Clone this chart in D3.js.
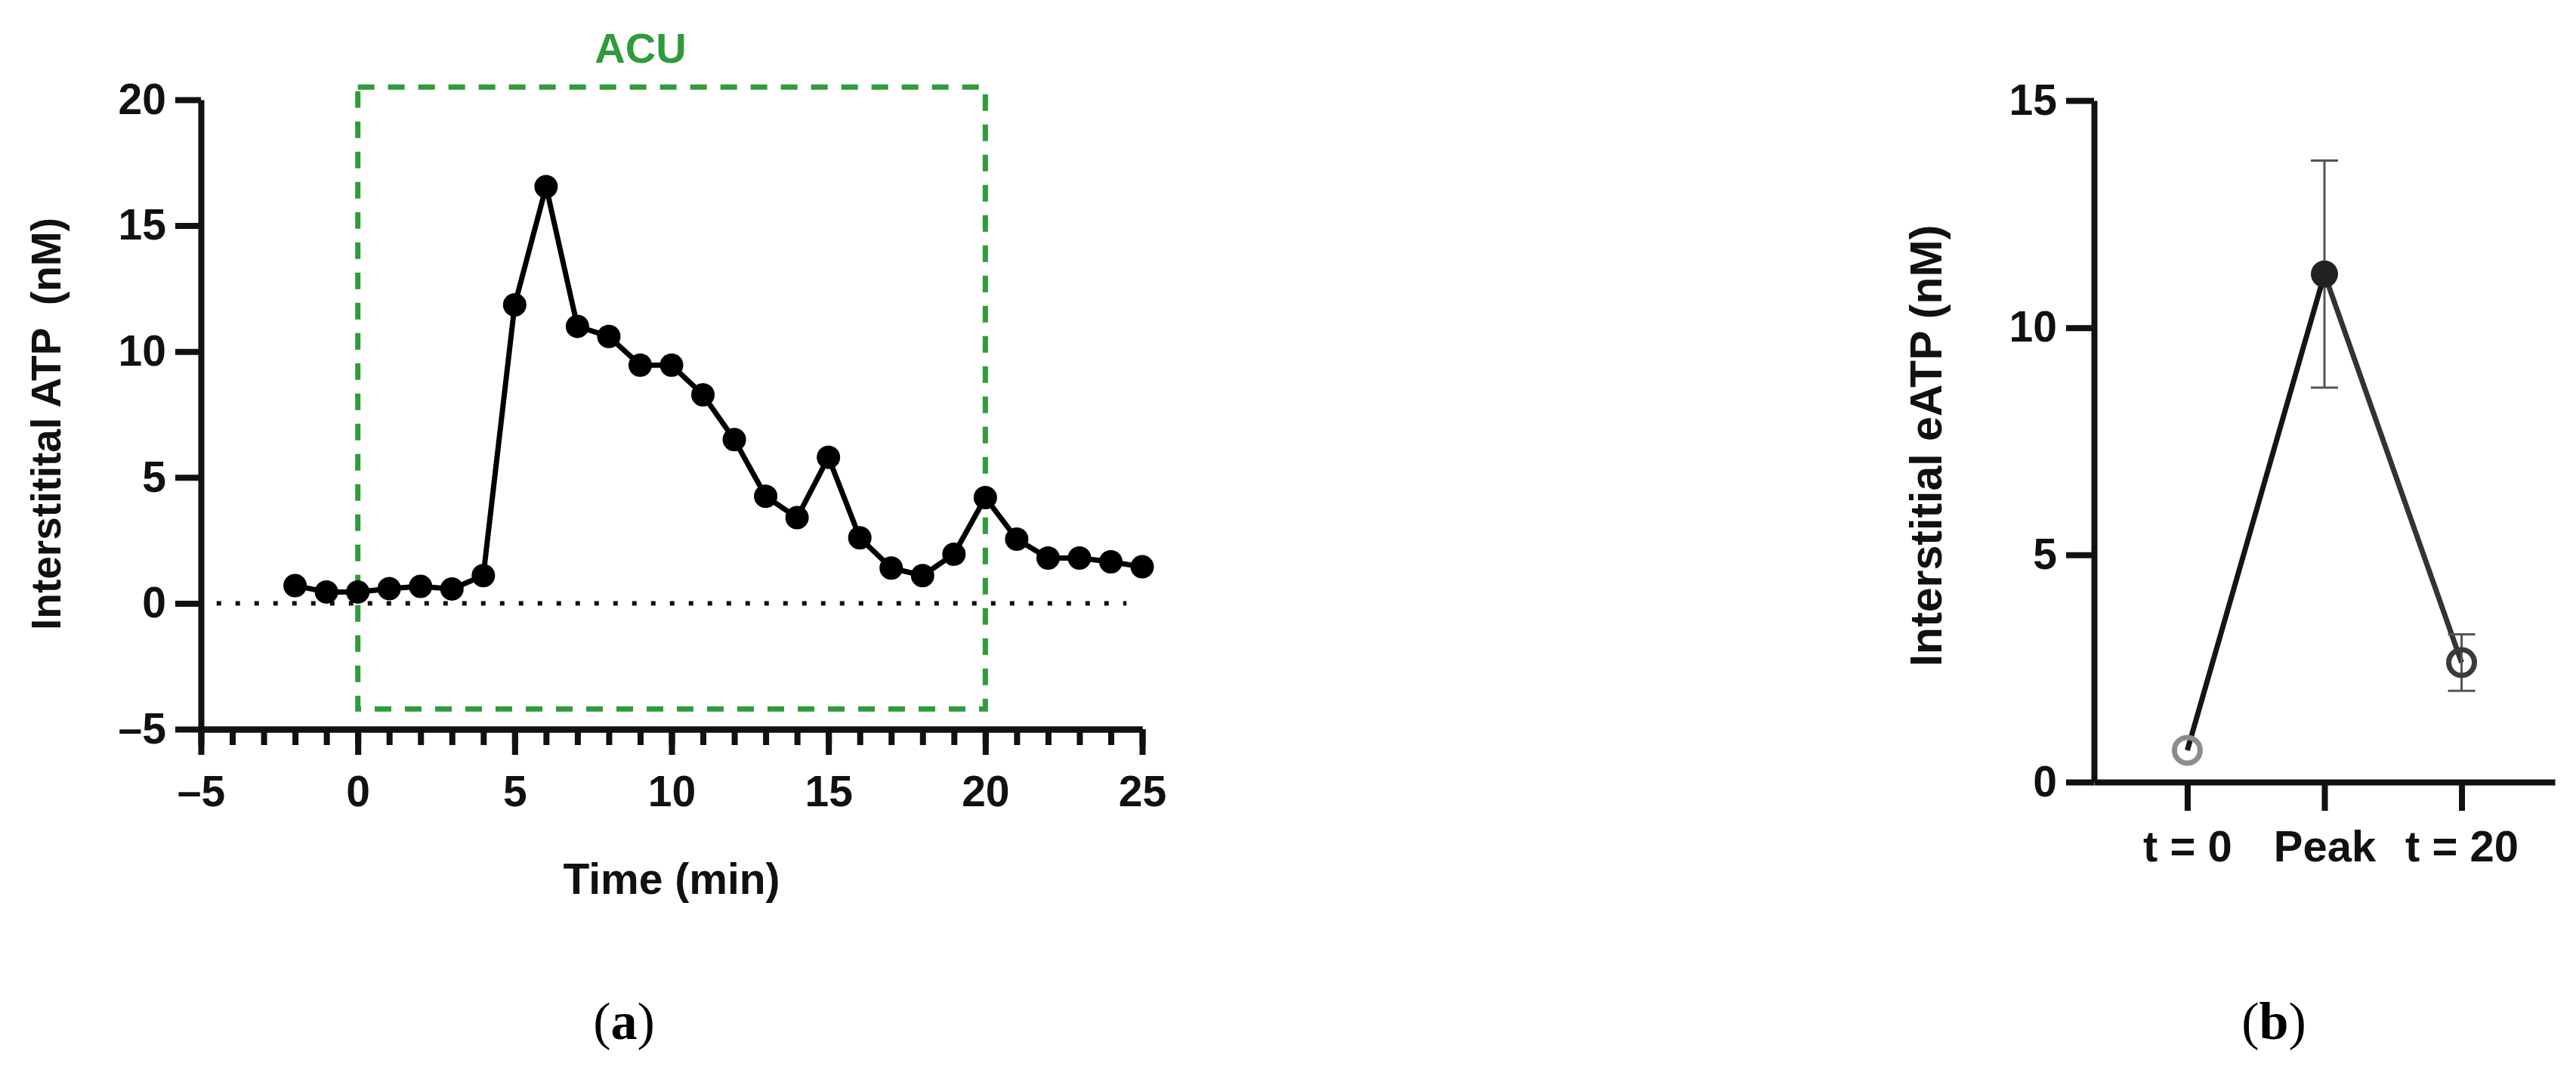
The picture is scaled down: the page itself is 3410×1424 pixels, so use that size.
<!DOCTYPE html>
<html>
<head>
<meta charset="utf-8">
<script src="https://cdn.jsdelivr.net/npm/d3@7"></script>
<style>
  body { margin: 0; background: #fff; }
  .axis path, .axis line { stroke: #111; stroke-width: 8; }
  .axis text { font-family: "Liberation Sans", Arial, sans-serif; font-weight: bold; fill: #111; }
</style>
</head>
<body>
<script>
// panel (a): time course
var timeMin = [-2, -1, 0, 1, 2, 3, 4, 5, 6, 7, 8, 9, 10, 11, 12, 13, 14, 15, 16, 17, 18, 19, 20, 21, 22, 23, 24, 25]
var atpNM = [0.70, 0.45, 0.45, 0.58, 0.67, 0.57, 1.10, 11.85, 16.55, 11.0, 10.6, 9.46, 9.46, 8.28, 6.50, 4.25, 3.40, 5.80, 2.60, 1.40, 1.10, 1.95, 4.20, 2.55, 1.80, 1.80, 1.65, 1.45]
var xTicksA = [-5, 0, 5, 10, 15, 20, 25]
var yTicksA = [-5, 0, 5, 10, 15, 20]
var acuWindow = [0, 20]        // minutes
var acuBoxY = [-4.2, 20.5]     // box extent in nM
var zeroLine = [-4.5, 24.5]

// panel (b): summary
var phases = ["t = 0", "Peak", "t = 20"]
var meanNM = [0.70, 11.18, 2.63]
var semNM = [0, 2.5, 0.62]
var yTicksB = [0, 5, 10, 15]

var w = 3410
var h = 1424

var svg = d3.select("body")
    .append("svg")
    .attr("width", w)
    .attr("height", h)

var font = "'Liberation Sans', Arial, sans-serif"

// ---------- panel (a) ----------
var xA = d3.scaleLinear().domain([-5, 25]).range([266, 1512])
var yA = d3.scaleLinear().domain([-5, 20]).range([965, 132])

// minor ticks every minute
svg.append("g")
    .attr("class", "axis")
    .attr("transform", "translate(0," + yA(-5) + ")")
    .call(d3.axisBottom(xA).tickValues(d3.range(-5, 26, 1)).tickSize(21).tickSizeOuter(0).tickFormat(""))

svg.append("g")
    .attr("class", "axis")
    .attr("transform", "translate(0," + yA(-5) + ")")
    .call(d3.axisBottom(xA).tickValues(xTicksA).tickSize(34).tickSizeOuter(0).tickPadding(28)
        .tickFormat(function(d) { return d < 0 ? "\u2013" + (-d) : d }))
    .selectAll("text").attr("font-size", 57)

svg.append("g")
    .attr("class", "axis")
    .attr("transform", "translate(" + xA(-5) + ",0)")
    .call(d3.axisLeft(yA).tickValues(yTicksA).tickSize(34).tickSizeOuter(0).tickPadding(12)
        .tickFormat(function(d) { return d < 0 ? "\u2013" + (-d) : d }))
    .selectAll("text").attr("font-size", 57)

// dotted zero line
svg.append("line")
    .attr("x1", xA(zeroLine[0]))
    .attr("x2", xA(zeroLine[1]))
    .attr("y1", yA(0))
    .attr("y2", yA(0))
    .attr("stroke", "#111")
    .attr("stroke-width", 6)
    .attr("stroke-dasharray", "6,19")

// ACU box
svg.append("rect")
    .attr("x", xA(acuWindow[0]))
    .attr("y", yA(acuBoxY[1]))
    .attr("width", xA(acuWindow[1]) - xA(acuWindow[0]))
    .attr("height", yA(acuBoxY[0]) - yA(acuBoxY[1]))
    .attr("fill", "none")
    .attr("stroke", "#2f9b3b")
    .attr("stroke-width", 7)
    .attr("stroke-dasharray", "22,18")

svg.append("text")
    .attr("x", 848)
    .attr("y", 83)
    .attr("text-anchor", "middle")
    .attr("font-family", font)
    .attr("font-weight", "bold")
    .attr("font-size", 56)
    .attr("fill", "#2f9b3b")
    .text("ACU")

var ptsA = timeMin.map(function(t, i) { return { x: t, y: atpNM[i] } })

svg.append("path")
    .datum(ptsA)
    .attr("fill", "none")
    .attr("stroke", "#000")
    .attr("stroke-width", 7)
    .attr("stroke-linejoin", "round")
    .attr("d", d3.line().x(function(d) { return xA(d.x) }).y(function(d) { return yA(d.y) }))

svg.append("g").selectAll("circle")
    .data(ptsA)
    .enter()
    .append("circle")
    .attr("cx", function(d) { return xA(d.x) })
    .attr("cy", function(d) { return yA(d.y) })
    .attr("r", 15.5)
    .attr("fill", "#000")

// axis titles
svg.append("text")
    .attr("x", xA(10))
    .attr("y", 1183)
    .attr("text-anchor", "middle")
    .attr("font-family", font)
    .attr("font-weight", "bold")
    .attr("font-size", 57)
    .attr("fill", "#111")
    .text("Time (min)")

svg.append("text")
    .attr("transform", "translate(80, 561) rotate(-90)")
    .attr("text-anchor", "middle")
    .attr("font-family", font)
    .attr("font-weight", "bold")
    .attr("font-size", 55)
    .attr("fill", "#111")
    .style("white-space", "pre")
    .text("Interstitital ATP  (nM)")

// ---------- panel (b) ----------
var xB = d3.scalePoint().domain(phases).range([2772, 3382]).padding(0.68)
var yB = d3.scaleLinear().domain([0, 15]).range([1035, 133])

svg.append("g")
    .attr("class", "axis")
    .attr("transform", "translate(0," + yB(0) + ")")
    .call(d3.axisBottom(xB).tickSize(38).tickSizeOuter(0).tickPadding(26))
    .selectAll("text").attr("font-size", 58)

svg.append("g")
    .attr("class", "axis")
    .attr("transform", "translate(" + 2772 + ",0)")
    .call(d3.axisLeft(yB).tickValues(yTicksB).tickSize(37).tickSizeOuter(0).tickPadding(12))
    .selectAll("text").attr("font-size", 57)

var ptsB = phases.map(function(p, i) { return { x: p, y: meanNM[i], e: semNM[i] } })

// connecting segments
var segColors = ["#151515", "#333"]
for (var i = 0; i < ptsB.length - 1; i++) {
    svg.append("line")
        .attr("x1", xB(ptsB[i].x))
        .attr("y1", yB(ptsB[i].y))
        .attr("x2", xB(ptsB[i + 1].x))
        .attr("y2", yB(ptsB[i + 1].y))
        .attr("stroke", segColors[i])
        .attr("stroke-width", 7)
}

// error bars
var capW = 36
ptsB.filter(function(d) { return d.e > 0 }).forEach(function(d) {
    var cx = xB(d.x)
    var g = svg.append("g").attr("stroke", "#555").attr("stroke-width", 3)
    g.append("line").attr("x1", cx).attr("x2", cx).attr("y1", yB(d.y + d.e)).attr("y2", yB(d.y - d.e))
    g.append("line").attr("x1", cx - capW / 2).attr("x2", cx + capW / 2).attr("y1", yB(d.y + d.e)).attr("y2", yB(d.y + d.e))
    g.append("line").attr("x1", cx - capW / 2).attr("x2", cx + capW / 2).attr("y1", yB(d.y - d.e)).attr("y2", yB(d.y - d.e))
})

var markStroke = ["#8c8c8c", "#222", "#3a3a3a"]
var markFill = ["none", "#222", "none"]
svg.append("g").selectAll("circle")
    .data(ptsB)
    .enter()
    .append("circle")
    .attr("cx", function(d) { return xB(d.x) })
    .attr("cy", function(d) { return yB(d.y) })
    .attr("r", function(d, i) { return i == 1 ? 18 : 17 })
    .attr("fill", function(d, i) { return markFill[i] })
    .attr("stroke", function(d, i) { return markStroke[i] })
    .attr("stroke-width", function(d, i) { return i == 1 ? 0 : 7 })

svg.append("text")
    .attr("transform", "translate(2570, 590) rotate(-90)")
    .attr("text-anchor", "middle")
    .attr("font-family", font)
    .attr("font-weight", "bold")
    .attr("font-size", 59)
    .attr("fill", "#111")
    .text("Interstitial eATP (nM)")

// ---------- captions ----------
var captions = [{ x: 826, t: "a" }, { x: 3010, t: "b" }]
captions.forEach(function(c) {
    var tx = svg.append("text")
        .attr("x", c.x)
        .attr("y", 1375)
        .attr("text-anchor", "middle")
        .attr("font-family", "'Liberation Serif', 'Times New Roman', serif")
        .attr("font-size", 70)
        .attr("fill", "#000")
    tx.append("tspan").text("(")
    tx.append("tspan").attr("font-weight", "bold").text(c.t)
    tx.append("tspan").text(")")
})
</script>
</body>
</html>
